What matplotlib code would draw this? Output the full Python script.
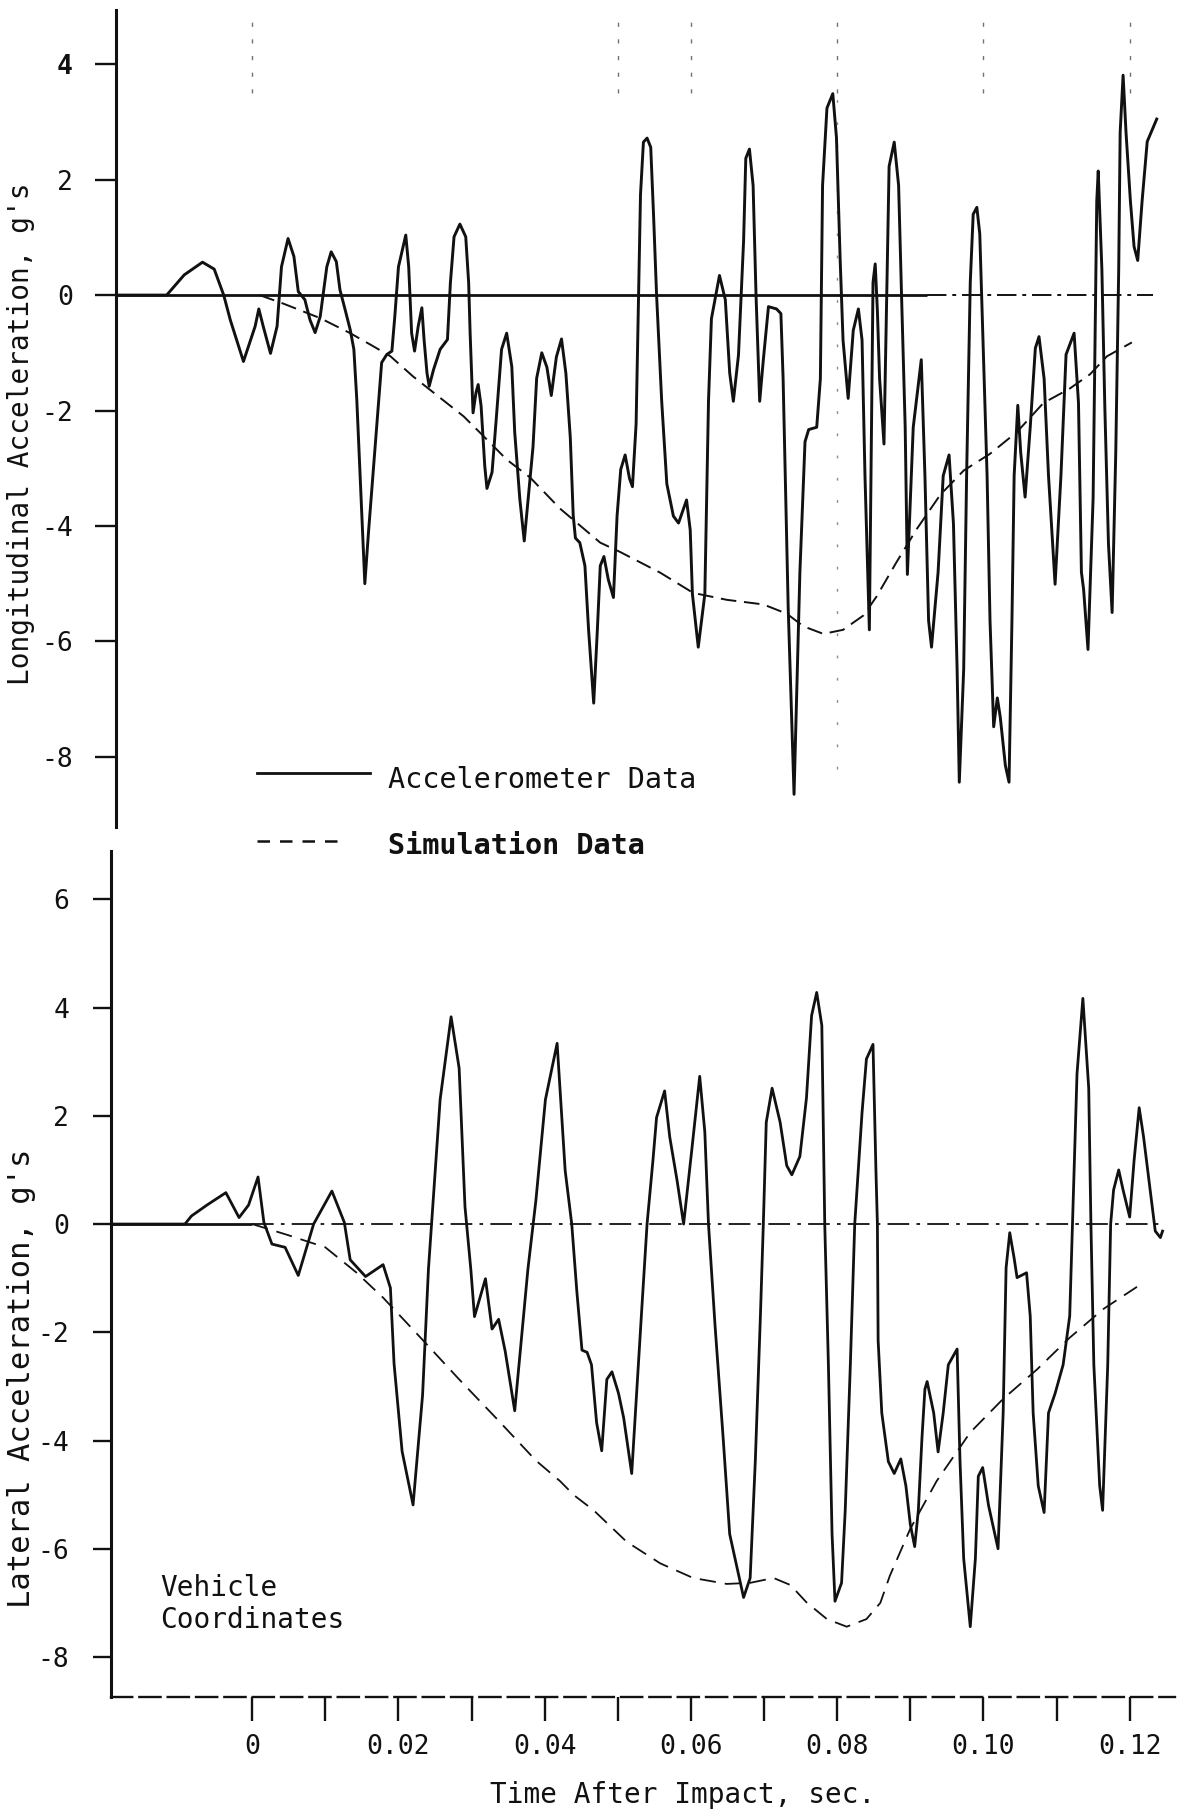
import matplotlib
matplotlib.use("Agg")
import matplotlib.pyplot as plt
from matplotlib.lines import Line2D

FONT = ["DejaVu Sans Mono", "Liberation Mono", "DejaVu Sans"]
plt.rcParams["font.family"] = FONT

# ---------------- data (time after impact in s, acceleration in g) ----------------
top_acc_t = [-0.0186, -0.0117, -0.0093, -0.0068, -0.0052, -0.0039, -0.0030, -0.0012, 0.0004, 0.0009,
             0.0015, 0.0025, 0.0034, 0.0040, 0.0049, 0.0057, 0.0063, 0.0072, 0.0079, 0.0086,
             0.0093, 0.0102, 0.0108, 0.0115, 0.0120, 0.0127, 0.0134, 0.0139, 0.0143, 0.0147,
             0.0151, 0.0154, 0.0159, 0.0166, 0.0173, 0.0177, 0.0184, 0.0191, 0.0195, 0.0200,
             0.0210, 0.0214, 0.0216, 0.0218, 0.0222, 0.0227, 0.0232, 0.0235, 0.0239, 0.0242,
             0.0248, 0.0257, 0.0267, 0.0271, 0.0276, 0.0284, 0.0292, 0.0296, 0.0298, 0.0302,
             0.0306, 0.0309, 0.0313, 0.0318, 0.0321, 0.0328, 0.0334, 0.0341, 0.0348, 0.0355,
             0.0359, 0.0366, 0.0372, 0.0384, 0.0389, 0.0396, 0.0403, 0.0409, 0.0416, 0.0423,
             0.0429, 0.0435, 0.0439, 0.0442, 0.0448, 0.0455, 0.0460, 0.0467, 0.0472, 0.0476,
             0.0481, 0.0487, 0.0494, 0.0499, 0.0504, 0.0510, 0.0516, 0.0520, 0.0525, 0.0528,
             0.0531, 0.0535, 0.0540, 0.0545, 0.0549, 0.0553, 0.0560, 0.0567, 0.0576, 0.0583,
             0.0594, 0.0599, 0.0602, 0.0610, 0.0619, 0.0624, 0.0628, 0.0639, 0.0647, 0.0653,
             0.0658, 0.0665, 0.0672, 0.0675, 0.0680, 0.0685, 0.0689, 0.0694, 0.0699, 0.0706,
             0.0717, 0.0723, 0.0726, 0.0733, 0.0741, 0.0749, 0.0756, 0.0761, 0.0772, 0.0777,
             0.0780, 0.0786, 0.0794, 0.0799, 0.0804, 0.0808, 0.0815, 0.0822, 0.0829, 0.0834,
             0.0838, 0.0844, 0.0847, 0.0849, 0.0852, 0.0855, 0.0858, 0.0864, 0.0868, 0.0871,
             0.0878, 0.0884, 0.0888, 0.0893, 0.0896, 0.0904, 0.0915, 0.0920, 0.0925, 0.0929,
             0.0938, 0.0945, 0.0953, 0.0959, 0.0964, 0.0967, 0.0973, 0.0977, 0.0982, 0.0986,
             0.0991, 0.0995, 0.0999, 0.1005, 0.1009, 0.1014, 0.1019, 0.1023, 0.1030, 0.1035,
             0.1039, 0.1042, 0.1047, 0.1051, 0.1057, 0.1064, 0.1071, 0.1076, 0.1083, 0.1089,
             0.1098, 0.1106, 0.1113, 0.1124, 0.1130, 0.1134, 0.1137, 0.1143, 0.1150, 0.1153,
             0.1155, 0.1157, 0.1162, 0.1166, 0.1171, 0.1176, 0.1181, 0.1185, 0.1187, 0.1191,
             0.1195, 0.1201, 0.1206, 0.1211, 0.1217, 0.1224, 0.1237]
top_acc_g = [0.00, 0.00, 0.35, 0.57, 0.45, 0.00, -0.43, -1.15, -0.54, -0.24,
             -0.54, -1.01, -0.54, 0.49, 0.98, 0.67, 0.06, -0.08, -0.43, -0.65,
             -0.37, 0.49, 0.75, 0.58, 0.09, -0.25, -0.60, -0.94, -1.81, -2.96,
             -4.11, -5.00, -4.11, -2.96, -1.81, -1.17, -1.03, -0.97, -0.37, 0.49,
             1.04, 0.49, -0.08, -0.66, -0.97, -0.54, -0.22, -0.77, -1.35, -1.58,
             -1.29, -0.94, -0.77, 0.21, 1.01, 1.23, 1.01, 0.21, -0.66, -2.04,
             -1.69, -1.55, -1.92, -2.96, -3.35, -3.07, -2.10, -0.94, -0.66, -1.24,
             -2.38, -3.54, -4.26, -2.63, -1.44, -1.00, -1.25, -1.74, -1.07, -0.76,
             -1.36, -2.47, -3.82, -4.21, -4.29, -4.69, -5.80, -7.07, -5.80, -4.69,
             -4.53, -4.93, -5.24, -3.82, -3.02, -2.77, -3.18, -3.32, -2.23, -0.25,
             1.74, 2.65, 2.72, 2.56, 1.34, 0.00, -1.84, -3.27, -3.83, -3.95,
             -3.55, -4.07, -5.18, -6.10, -5.18, -1.84, -0.41, 0.34, -0.08, -1.35,
             -1.84, -1.04, 0.94, 2.37, 2.53, 1.90, 0.00, -1.84, -1.12, -0.20,
             -0.24, -0.32, -1.43, -5.42, -8.65, -4.80, -2.54, -2.33, -2.29, -1.45,
             1.90, 3.24, 3.49, 2.73, 0.64, -0.78, -1.79, -0.61, -0.24, -0.78,
             -3.13, -5.80, -2.29, 0.22, 0.54, -0.28, -1.45, -2.58, 0.22, 2.23,
             2.65, 1.90, 0.00, -2.29, -4.84, -2.29, -1.12, -3.13, -5.64, -6.10,
             -4.80, -3.13, -2.77, -3.96, -6.48, -8.44, -6.48, -3.13, 0.22, 1.40,
             1.52, 1.06, -0.61, -3.13, -5.64, -7.48, -6.98, -7.31, -8.15, -8.44,
             -5.64, -3.13, -1.91, -2.73, -3.50, -2.29, -0.92, -0.72, -1.45, -3.13,
             -5.01, -3.13, -1.03, -0.66, -1.87, -4.80, -5.10, -6.14, -3.52, -0.35,
             1.63, 2.15, 0.44, -1.93, -4.31, -5.50, -2.72, 0.44, 2.82, 3.81,
             2.82, 1.63, 0.84, 0.60, 1.63, 2.66, 3.05]

top_sim_t = [0.0010, 0.0043, 0.0093, 0.0134, 0.0166, 0.0189, 0.0220, 0.0243, 0.0289, 0.0316,
             0.0348, 0.0380, 0.0421, 0.0476, 0.0503, 0.0558, 0.0603, 0.0649, 0.0699, 0.0731,
             0.0754, 0.0781, 0.0808, 0.0836, 0.0854, 0.0881, 0.0909, 0.0941, 0.0973, 0.1009,
             0.1046, 0.1082, 0.1118, 0.1146, 0.1169, 0.1203]
top_sim_g = [0.00, -0.15, -0.40, -0.66, -0.89, -1.06, -1.41, -1.64, -2.10, -2.44,
             -2.85, -3.16, -3.70, -4.29, -4.45, -4.81, -5.16, -5.28, -5.36, -5.52,
             -5.74, -5.87, -5.80, -5.55, -5.22, -4.63, -4.05, -3.46, -3.04, -2.75,
             -2.37, -1.87, -1.62, -1.37, -1.06, -0.82]

bot_acc_t = [-0.0193, -0.0092, -0.0083, -0.0062, -0.0036, -0.0027, -0.0018, -0.0005, 0.0008, 0.0016,
             0.0027, 0.0045, 0.0063, 0.0084, 0.0109, 0.0126, 0.0134, 0.0155, 0.0179, 0.0189,
             0.0194, 0.0205, 0.0220, 0.0233, 0.0241, 0.0257, 0.0272, 0.0283, 0.0291, 0.0299,
             0.0304, 0.0319, 0.0328, 0.0337, 0.0346, 0.0359, 0.0377, 0.0388, 0.0401, 0.0417,
             0.0428, 0.0437, 0.0444, 0.0451, 0.0458, 0.0464, 0.0471, 0.0478, 0.0485, 0.0492,
             0.0501, 0.0508, 0.0519, 0.0526, 0.0533, 0.0540, 0.0548, 0.0553, 0.0564, 0.0571,
             0.0581, 0.0590, 0.0601, 0.0612, 0.0619, 0.0624, 0.0633, 0.0644, 0.0653, 0.0672,
             0.0681, 0.0688, 0.0695, 0.0699, 0.0703, 0.0711, 0.0722, 0.0731, 0.0738, 0.0749,
             0.0758, 0.0765, 0.0772, 0.0779, 0.0783, 0.0788, 0.0793, 0.0797, 0.0806, 0.0811,
             0.0818, 0.0824, 0.0834, 0.0840, 0.0849, 0.0853, 0.0855, 0.0856, 0.0861, 0.0870,
             0.0878, 0.0887, 0.0894, 0.0900, 0.0906, 0.0911, 0.0916, 0.0920, 0.0923, 0.0932,
             0.0938, 0.0945, 0.0952, 0.0964, 0.0968, 0.0973, 0.0982, 0.0989, 0.0993, 0.0999,
             0.1007, 0.1020, 0.1027, 0.1031, 0.1036, 0.1042, 0.1046, 0.1059, 0.1064, 0.1068,
             0.1075, 0.1083, 0.1089, 0.1098, 0.1109, 0.1118, 0.1124, 0.1128, 0.1136, 0.1144,
             0.1147, 0.1151, 0.1159, 0.1163, 0.1170, 0.1174, 0.1178, 0.1185, 0.1191, 0.1200,
             0.1206, 0.1213, 0.1219, 0.1228, 0.1235, 0.1242, 0.1245]
bot_acc_g = [0.00, 0.00, 0.15, 0.35, 0.58, 0.35, 0.12, 0.35, 0.87, 0.03,
             -0.37, -0.43, -0.95, 0.00, 0.61, 0.03, -0.66, -0.97, -0.75, -1.18,
             -2.58, -4.20, -5.19, -3.16, -0.84, 2.30, 3.83, 2.88, 0.32, -0.84,
             -1.71, -1.01, -1.94, -1.76, -2.35, -3.45, -0.84, 0.44, 2.30, 3.34,
             0.99, 0.00, -1.25, -2.33, -2.37, -2.60, -3.67, -4.19, -2.87, -2.73,
             -3.13, -3.58, -4.61, -3.05, -1.52, 0.00, 1.17, 1.97, 2.46, 1.61,
             0.81, 0.00, 1.35, 2.73, 1.70, 0.00, -1.88, -3.94, -5.73, -6.90,
             -6.54, -4.39, -1.70, 0.00, 1.88, 2.51, 1.88, 1.08, 0.91, 1.25,
             2.33, 3.85, 4.28, 3.67, 0.00, -2.60, -5.73, -6.97, -6.63, -5.29,
             -2.60, 0.00, 2.06, 3.05, 3.32, 0.99, 0.00, -2.15, -3.49, -4.39,
             -4.61, -4.34, -4.84, -5.55, -5.96, -5.29, -3.94, -3.05, -2.91, -3.49,
             -4.21, -3.49, -2.60, -2.31, -4.39, -6.18, -7.44, -6.18, -4.66, -4.50,
             -5.20, -6.00, -3.49, -0.81, -0.16, -0.63, -0.99, -0.90, -1.70, -3.49,
             -4.84, -5.33, -3.49, -3.13, -2.60, -1.70, 0.99, 2.78, 4.17, 2.51,
             0.00, -2.60, -4.84, -5.29, -2.60, 0.00, 0.63, 1.00, 0.63, 0.13,
             1.17, 2.15, 1.61, 0.63, -0.13, -0.25, -0.13]

bot_sim_t = [0.0000, 0.0048, 0.0100, 0.0142, 0.0179, 0.0231, 0.0283, 0.0336, 0.0388, 0.0421,
             0.0440, 0.0467, 0.0512, 0.0558, 0.0603, 0.0649, 0.0681, 0.0713, 0.0736, 0.0758,
             0.0786, 0.0813, 0.0840, 0.0859, 0.0872, 0.0900, 0.0936, 0.0982, 0.1027, 0.1073,
             0.1118, 0.1164, 0.1210]
bot_sim_g = [0.00, -0.20, -0.43, -0.89, -1.36, -2.11, -2.87, -3.62, -4.37, -4.75,
             -5.01, -5.29, -5.87, -6.27, -6.54, -6.65, -6.63, -6.54, -6.67, -6.99,
             -7.30, -7.44, -7.30, -7.00, -6.50, -5.63, -4.75, -3.85, -3.23, -2.69,
             -2.10, -1.57, -1.16]

x_major = [0.0, 0.02, 0.04, 0.06, 0.08, 0.10, 0.12]
x_major_labels = ["0", "0.02", "0.04", "0.06", "0.08", "0.10", "0.12"]
x_minor = [0.01, 0.03, 0.05, 0.07, 0.09, 0.11]
top_yticks = [-8, -6, -4, -2, 0, 2, 4]
bot_yticks = [-8, -6, -4, -2, 0, 2, 4, 6]
grid_marks_t = [0.0, 0.05, 0.06, 0.08, 0.10, 0.12]

TOP_XLIM = (-0.01863, 0.1262)
BOT_XLIM = (-0.01931, 0.1262)
TOP_YLIM = (-9.21, 4.94)
BOT_YLIM = (-8.734, 6.90)
ZERO_TOP_SOLID_END = 0.0923
ZERO_TOP_END = 0.1232
ZERO_BOT_END = 0.1246

INK = "#111111"

fig = plt.figure(figsize=(11.91, 18.14), dpi=100)
ax1 = fig.add_axes([0.09740, 0.5443, 0.88917, 0.4502])
ax2 = fig.add_axes([0.09320, 0.06466, 0.89337, 0.4664])

for ax in (ax1, ax2):
    for s in ("top", "right"):
        ax.spines[s].set_visible(False)
    ax.spines["left"].set_linewidth(2.2)
    ax.spines["left"].set_color(INK)

# ---- top panel ----
ax1.set_xlim(*TOP_XLIM)
ax1.set_ylim(*TOP_YLIM)
ax1.spines["bottom"].set_visible(False)
ax1.tick_params(axis="x", bottom=False, labelbottom=False)
ax1.tick_params(axis="y", direction="out", length=15, width=1.7, pad=16,
                labelsize=19, colors=INK)
ax1.set_yticks(top_yticks)
ax1.set_yticklabels([f"{v:d}" for v in top_yticks])
for lab in ax1.get_yticklabels():
    if lab.get_text() == "4":
        lab.set_fontweight("bold")
ax1.vlines(grid_marks_t, 3.5, TOP_YLIM[1], colors="0.45",
           linestyles=[(0, (3, 9))], linewidth=1.0)
ax1.vlines([0.08], TOP_YLIM[0] + 1.0, 3.5, colors="0.55",
           linestyles=[(0, (2, 14))], linewidth=1.0)
ax1.hlines(0, TOP_XLIM[0], ZERO_TOP_SOLID_END, colors=INK, linewidth=2.0)
ax1.hlines(0, ZERO_TOP_SOLID_END, ZERO_TOP_END, colors=INK, linewidth=1.4,
           linestyles=[(0, (10, 3, 2, 3))])
ax1.plot(top_sim_t, top_sim_g, color=INK, linewidth=1.4, linestyle=(0, (8, 4)))
ax1.plot(top_acc_t, top_acc_g, color=INK, linewidth=2.1, solid_joinstyle="round")

# ---- bottom panel ----
ax2.set_xlim(*BOT_XLIM)
ax2.set_ylim(*BOT_YLIM)
ax2.spines["bottom"].set_linewidth(1.7)
ax2.spines["bottom"].set_color(INK)
ax2.spines["bottom"].set_linestyle((0, (9, 3)))
ax2.tick_params(axis="y", direction="out", length=13, width=1.7, pad=17,
                labelsize=19, colors=INK)
ax2.set_yticks(bot_yticks)
ax2.set_yticklabels([f"{v:d}" for v in bot_yticks])
ax2.set_xticks(x_major)
ax2.set_xticklabels(x_major_labels)
ax2.set_xticks(x_minor, minor=True)
ax2.tick_params(axis="x", which="both", direction="out", length=17, width=1.7,
                pad=10, labelsize=19, colors=INK)
ax2.hlines(0, BOT_XLIM[0], 0.0, colors=INK, linewidth=2.0)
ax2.hlines(0, 0.0, ZERO_BOT_END, colors=INK, linewidth=1.3,
           linestyles=[(0, (12, 4, 2, 4))])
ax2.plot(bot_sim_t, bot_sim_g, color=INK, linewidth=1.3, linestyle=(0, (9, 5)))
ax2.plot(bot_acc_t, bot_acc_g, color=INK, linewidth=2.0, solid_joinstyle="round")

# ---- labels ----
fig.text(0.0175, 0.761, "Longitudinal Acceleration, g's", rotation=90,
         ha="center", va="center", fontsize=20, color=INK)
fig.text(0.0178, 0.240, "Lateral Acceleration, g's", rotation=90,
         ha="center", va="center", fontsize=22, color=INK)
fig.text(0.573, 0.0105, "Time After Impact, sec.", ha="center", va="center",
         fontsize=20, color=INK)
fig.text(0.1343, 0.1246, "Vehicle", ha="left", va="center", fontsize=20, color=INK)
fig.text(0.1343, 0.1069, "Coordinates", ha="left", va="center", fontsize=20, color=INK)

# ---- legend ----
fig.add_artist(Line2D([0.2158, 0.3107], [0.5739, 0.5739], transform=fig.transFigure,
                      color=INK, linewidth=2.0))
fig.text(0.3258, 0.5700, "Accelerometer Data", ha="left", va="center",
         fontsize=20.5, color=INK)
fig.add_artist(Line2D([0.2158, 0.2830], [0.5364, 0.5364], transform=fig.transFigure,
                      color=INK, linewidth=1.8, linestyle=(0, (5, 4))))
fig.text(0.3258, 0.5336, "Simulation Data", ha="left", va="center",
         fontsize=20.5, fontweight="bold", color=INK)

fig.savefig("out.png", dpi=100)
